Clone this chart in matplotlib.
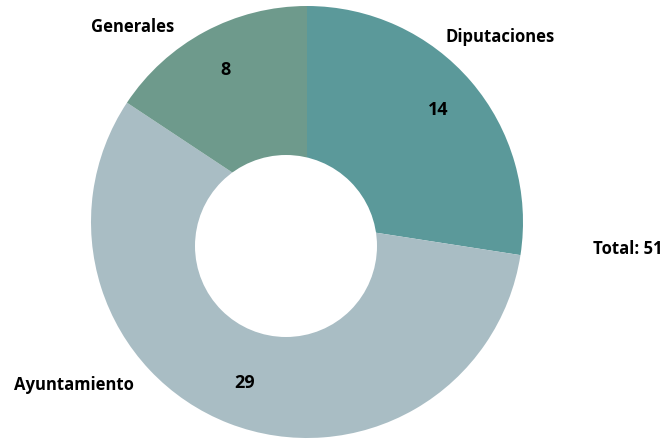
import matplotlib.pyplot as plt
from matplotlib.patches import Circle

# datos
categorias = ['Diputaciones', 'Ayuntamiento', 'Generales']
valores = [14, 29, 8]
colores = ['#5B999A', '#A9BDC4', '#6E9A8C']
total = sum(valores)

plt.rcParams['font.family'] = ['Open Sans', 'DejaVu Sans']

fig = plt.figure(figsize=(6.69, 4.41), dpi=100)
ax = fig.add_axes([0, 0, 1, 1])

centro = (307, 219)
radio = 216
wedges, _, autotexts = ax.pie(
    valores, colors=colores, startangle=90, counterclock=False,
    center=centro, radius=radio, frame=True,
    autopct=lambda p: f"{round(p * total / 100)}", pctdistance=0.80,
    wedgeprops=dict(linewidth=0),
    textprops=dict(fontsize=13, fontweight='bold', color='black'))
ax.set_xlim(0, 669)
ax.set_ylim(0, 441)
ax.set_aspect('equal')
ax.axis('off')

# agujero (ligeramente desplazado como en el original)
ax.add_patch(Circle((286, 195), 91, facecolor='white', edgecolor='none', zorder=5))

# etiquetas de categoria
pos_etiquetas = {'Diputaciones': (500, 404), 'Ayuntamiento': (74, 56), 'Generales': (133, 414)}
for cat in categorias:
    x, y = pos_etiquetas[cat]
    ax.text(x, y, cat, ha='center', va='center', fontsize=12, fontweight='bold')

ax.text(628, 192, f'Total: {total}', ha='center', va='center', fontsize=12, fontweight='bold')

fig.savefig('out.png', dpi=100)
